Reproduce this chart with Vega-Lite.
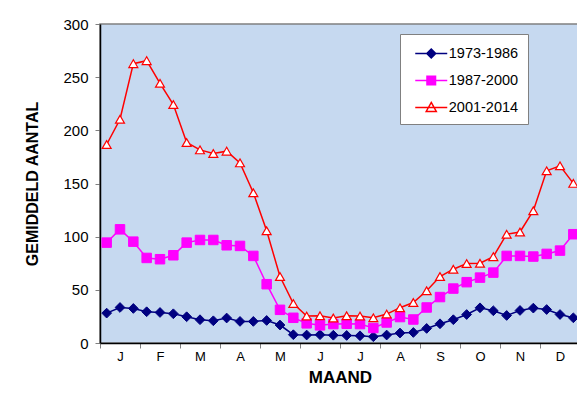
{
  "$schema": "https://vega.github.io/schema/vega-lite/v6.json",
  "width": 480,
  "height": 319,
  "autosize": "none",
  "padding": {"left": 100, "top": 24, "right": 0, "bottom": 69},
  "background": "white",
  "config": {
    "font": "Liberation Sans",
    "view": {"fill": "#C6D9F0", "stroke": "#808080", "strokeWidth": 1.5}
  },
  "data": {
    "values": [
      {"d":1,"p":"1973-1986","v":28.1},{"d":2,"p":"1973-1986","v":33.4},{"d":3,"p":"1973-1986","v":32.5},
      {"d":4,"p":"1973-1986","v":29.4},{"d":5,"p":"1973-1986","v":28.7},{"d":6,"p":"1973-1986","v":27.5},
      {"d":7,"p":"1973-1986","v":24.7},{"d":8,"p":"1973-1986","v":21.9},{"d":9,"p":"1973-1986","v":20.9},
      {"d":10,"p":"1973-1986","v":23.5},{"d":11,"p":"1973-1986","v":20.3},{"d":12,"p":"1973-1986","v":20.3},
      {"d":13,"p":"1973-1986","v":21.2},{"d":14,"p":"1973-1986","v":16.9},{"d":15,"p":"1973-1986","v":7.8},
      {"d":16,"p":"1973-1986","v":7.5},{"d":17,"p":"1973-1986","v":7.8},{"d":18,"p":"1973-1986","v":7.3},
      {"d":19,"p":"1973-1986","v":7.1},{"d":20,"p":"1973-1986","v":6.8},{"d":21,"p":"1973-1986","v":5.9},
      {"d":22,"p":"1973-1986","v":7.5},{"d":23,"p":"1973-1986","v":9.4},{"d":24,"p":"1973-1986","v":9.9},
      {"d":25,"p":"1973-1986","v":13.7},{"d":26,"p":"1973-1986","v":18.1},{"d":27,"p":"1973-1986","v":21.9},
      {"d":28,"p":"1973-1986","v":26.8},{"d":29,"p":"1973-1986","v":33.1},{"d":30,"p":"1973-1986","v":30.3},
      {"d":31,"p":"1973-1986","v":25.9},{"d":32,"p":"1973-1986","v":30.6},{"d":33,"p":"1973-1986","v":32.8},
      {"d":34,"p":"1973-1986","v":31.5},{"d":35,"p":"1973-1986","v":26.8},{"d":36,"p":"1973-1986","v":23.7},

      {"d":1,"p":"1987-2000","v":94.4},{"d":2,"p":"1987-2000","v":106.9},{"d":3,"p":"1987-2000","v":95.3},
      {"d":4,"p":"1987-2000","v":80.0},{"d":5,"p":"1987-2000","v":78.8},{"d":6,"p":"1987-2000","v":82.5},
      {"d":7,"p":"1987-2000","v":94.4},{"d":8,"p":"1987-2000","v":96.9},{"d":9,"p":"1987-2000","v":96.9},
      {"d":10,"p":"1987-2000","v":91.9},{"d":11,"p":"1987-2000","v":91.3},{"d":12,"p":"1987-2000","v":81.9},
      {"d":13,"p":"1987-2000","v":55.3},{"d":14,"p":"1987-2000","v":31.2},{"d":15,"p":"1987-2000","v":23.7},
      {"d":16,"p":"1987-2000","v":18.5},{"d":17,"p":"1987-2000","v":16.6},{"d":18,"p":"1987-2000","v":17.8},
      {"d":19,"p":"1987-2000","v":18.1},{"d":20,"p":"1987-2000","v":17.8},{"d":21,"p":"1987-2000","v":14.1},
      {"d":22,"p":"1987-2000","v":19.3},{"d":23,"p":"1987-2000","v":24.4},{"d":24,"p":"1987-2000","v":22.1},
      {"d":25,"p":"1987-2000","v":33.4},{"d":26,"p":"1987-2000","v":43.2},{"d":27,"p":"1987-2000","v":51.2},
      {"d":28,"p":"1987-2000","v":57.2},{"d":29,"p":"1987-2000","v":61.5},{"d":30,"p":"1987-2000","v":66.2},
      {"d":31,"p":"1987-2000","v":81.9},{"d":32,"p":"1987-2000","v":81.9},{"d":33,"p":"1987-2000","v":81.3},
      {"d":34,"p":"1987-2000","v":83.8},{"d":35,"p":"1987-2000","v":86.9},{"d":36,"p":"1987-2000","v":102.3},

      {"d":1,"p":"2001-2014","v":186.7},{"d":2,"p":"2001-2014","v":210.4},{"d":3,"p":"2001-2014","v":262.7},
      {"d":4,"p":"2001-2014","v":265.5},{"d":5,"p":"2001-2014","v":244.2},{"d":6,"p":"2001-2014","v":224.2},
      {"d":7,"p":"2001-2014","v":188.6},{"d":8,"p":"2001-2014","v":181.6},{"d":9,"p":"2001-2014","v":178.2},
      {"d":10,"p":"2001-2014","v":180.4},{"d":11,"p":"2001-2014","v":169.4},{"d":12,"p":"2001-2014","v":141.3},
      {"d":13,"p":"2001-2014","v":105.6},{"d":14,"p":"2001-2014","v":62.5},{"d":15,"p":"2001-2014","v":37.1},
      {"d":16,"p":"2001-2014","v":25.3},{"d":17,"p":"2001-2014","v":25.6},{"d":18,"p":"2001-2014","v":23.5},
      {"d":19,"p":"2001-2014","v":25.6},{"d":20,"p":"2001-2014","v":25.3},{"d":21,"p":"2001-2014","v":23.7},
      {"d":22,"p":"2001-2014","v":27.2},{"d":23,"p":"2001-2014","v":33.1},{"d":24,"p":"2001-2014","v":38.1},
      {"d":25,"p":"2001-2014","v":49.1},{"d":26,"p":"2001-2014","v":62.5},{"d":27,"p":"2001-2014","v":69.4},
      {"d":28,"p":"2001-2014","v":74.7},{"d":29,"p":"2001-2014","v":75.0},{"d":30,"p":"2001-2014","v":81.2},
      {"d":31,"p":"2001-2014","v":102.3},{"d":32,"p":"2001-2014","v":104.4},{"d":33,"p":"2001-2014","v":124.4},
      {"d":34,"p":"2001-2014","v":161.9},{"d":35,"p":"2001-2014","v":166.6},{"d":36,"p":"2001-2014","v":150.1}
    ]
  },
  "encoding": {
    "x": {
      "field": "d",
      "type": "quantitative",
      "scale": {"domain": [0.5, 36.5], "nice": false, "zero": false},
      "axis": {
        "values": [0.5, 2, 3.5, 5, 6.5, 8, 9.5, 11, 12.5, 14, 15.5, 17, 18.5, 20, 21.5, 23, 24.5, 26, 27.5, 29, 30.5, 32, 33.5, 35, 36.5],
        "labelExpr": "(datum.value - 2) % 3 == 0 ? ['J','F','M','A','M','J','J','A','S','O','N','D'][(datum.value - 2) / 3] : ''",
        "tickOpacity": {"condition": {"test": "(datum.value - 0.5) % 3 == 0", "value": 1}, "value": 0},
        "grid": false,
        "domainColor": "black",
        "domainWidth": 1.5,
        "tickColor": "#808080",
        "tickSize": 5,
        "labelFontSize": 13,
        "labelColor": "black",
        "labelPadding": 2,
        "labelFlush": false,
        "labelOverlap": false,
        "title": "MAAND",
        "titleFontSize": 17,
        "titleFontWeight": "bold",
        "titleColor": "black",
        "titlePadding": 6
      }
    },
    "y": {
      "field": "v",
      "type": "quantitative",
      "scale": {"domain": [0, 300], "nice": false},
      "axis": {
        "values": [0, 50, 100, 150, 200, 250, 300],
        "grid": false,
        "domainColor": "black",
        "domainWidth": 1.5,
        "tickColor": "#808080",
        "tickSize": 5,
        "labelFontSize": 15,
        "labelColor": "black",
        "labelPadding": 7,
        "labelFlush": false,
        "title": "GEMIDDELD AANTAL",
        "titleFontSize": 16,
        "titleFontWeight": "bold",
        "titleColor": "black",
        "titlePadding": 22
      }
    }
  },
  "layer": [
    {
      "mark": {"type": "line", "strokeWidth": 1.5},
      "encoding": {
        "color": {
          "field": "p",
          "type": "nominal",
          "scale": {"domain": ["1973-1986", "1987-2000", "2001-2014"], "range": ["#000080", "#FF00FF", "#FF0000"]},
          "legend": {
            "title": null,
            "orient": "none",
            "legendX": 300,
            "legendY": 10,
            "fillColor": "white",
            "strokeColor": "#808080",
            "padding": 9,
            "rowPadding": 9,
            "symbolSize": 361,
            "symbolOffset": 11.75,
            "symbolStrokeWidth": 1.5,
            "labelFontSize": 14.5,
            "labelColor": "black",
            "labelOffset": 7,
            "labelExpr": "datum.label + '  '",
            "encode": {
              "symbols": {
                "update": {
                  "shape": {"signal": "datum.value == '1973-1986' ? 'M-1.684,0L1.684,0M0,-0.47L0.47,0L0,0.47L-0.47,0Z' : datum.value == '1987-2000' ? 'M-1.684,0L1.684,0M-0.45,-0.45L0.45,-0.45L0.45,0.45L-0.45,0.45Z' : 'M-1.684,0L1.684,0M0,-0.53L0.53,0.42L-0.53,0.42Z'"},
                  "size": {"value": 361},
                  "fill": {"signal": "datum.value == '1973-1986' ? '#000080' : datum.value == '1987-2000' ? '#FF00FF' : 'white'"},
                  "stroke": {"signal": "datum.value == '1973-1986' ? '#000080' : datum.value == '1987-2000' ? '#FF00FF' : '#FF0000'"},
                  "opacity": {"value": 1}
                }
              }
            }
          }
        }
      }
    },
    {
      "transform": [{"filter": "datum.p == '1973-1986'"}],
      "mark": {"type": "point", "shape": "diamond", "size": 95, "filled": true, "fill": "#000080", "stroke": "#000080", "strokeWidth": 1, "opacity": 1}
    },
    {
      "transform": [{"filter": "datum.p == '1987-2000'"}],
      "mark": {"type": "point", "shape": "square", "size": 90, "filled": true, "fill": "#FF00FF", "stroke": "#FF00FF", "strokeWidth": 1, "opacity": 1}
    },
    {
      "transform": [{"filter": "datum.p == '2001-2014'"}],
      "mark": {"type": "point", "shape": "triangle-up", "size": 80, "filled": false, "fill": "#FFFFFF", "stroke": "#FF0000", "strokeWidth": 1.2, "opacity": 1, "fillOpacity": 1}
    }
  ]
}
